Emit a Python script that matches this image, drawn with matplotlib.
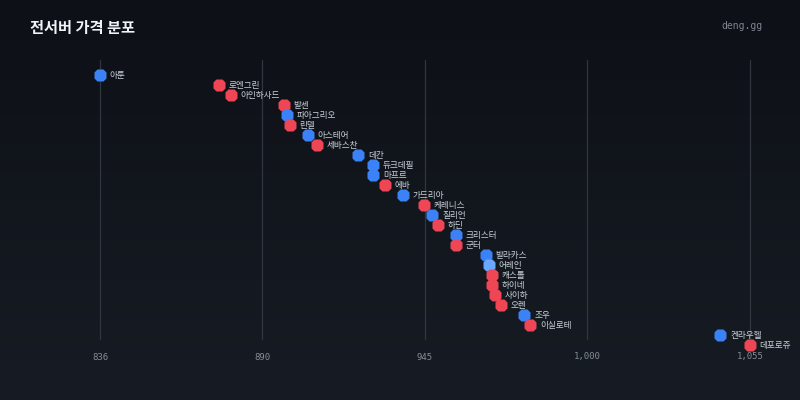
import numpy as np
import matplotlib
matplotlib.use("Agg")
import matplotlib.pyplot as plt

plt.rcParams['font.family'] = ['Noto Sans CJK KR', 'DejaVu Sans']

# servers, price (reading from the picture), group
servers = ["아툰", "로엔그린", "아인하사드", "발센", "파아그리오", "린델", "아스테어",
           "세바스찬", "데칸", "듀크데필", "마프르", "에바", "가드리아", "케레니스",
           "질리언", "하딘", "크리스터", "군터", "발라카스", "어레인", "캐스톨",
           "하이네", "사이하", "오렌", "조우", "이실로테", "켄라우헬", "데포로쥬"]
prices = [836, 876, 880, 898, 899, 900, 906, 909, 923, 928, 928, 932, 938, 945,
          948, 950, 956, 956, 966, 967, 968, 968, 969, 971, 979, 981, 1045, 1055]
groups = ["b", "r", "r", "r", "b", "r", "b", "r", "b", "b", "b", "r", "b", "r",
          "b", "r", "b", "r", "b", "lb", "r", "r", "r", "r", "b", "r", "b", "r"]

tick_vals = [836, 890.75, 945.5, 1000.25, 1055]
tick_labels = ["836", "890", "945", "1,000", "1,055"]

group_colors = {"b": "#3b82f6", "r": "#ef4655", "lb": "#6aa8ff"}


def main():
    fig = plt.figure(figsize=(8, 4), dpi=100)

    # fond en degrade vertical
    bg = fig.add_axes([0, 0, 1, 1], zorder=-10)
    grad = np.linspace(0, 1, 256).reshape(-1, 1)
    cmap = matplotlib.colors.LinearSegmentedColormap.from_list(
        "bg", ["#0d1016", "#171c24"])
    bg.imshow(grad, aspect="auto", cmap=cmap, extent=[0, 1, 0, 1], origin="upper")
    bg.axis("off")

    ax = fig.add_axes([0, 0.15, 1, 0.70])
    ax.patch.set_alpha(0)
    ax.set_xlim(802.31, 1071.85)
    ax.set_ylim(26.5, -1.5)

    for x in tick_vals:
        ax.axvline(x, color="#30363f", lw=0.9, zorder=1)

    ranks = list(range(len(servers)))
    for i, (name, p, g) in enumerate(zip(servers, prices, groups)):
        ax.plot(p, ranks[i], marker="8", ms=9.5, color=group_colors[g],
                mec="none", clip_on=False, zorder=3)
        ax.annotate(name, (p, ranks[i]), xytext=(7, -0.6), textcoords="offset points",
                    ha="left", va="center", fontsize=6.2, color="#c9d1d9",
                    annotation_clip=False, zorder=4)

    ax.set_xticks(tick_vals)
    ax.set_xticklabels(tick_labels, family="DejaVu Sans Mono", fontsize=6.5,
                       color="#848d97")
    ax.tick_params(axis="x", length=0, pad=9)
    ax.set_yticks([])
    for s in ax.spines.values():
        s.set_visible(False)

    fig.text(30 / 800, 1 - 28 / 400, "전서버 가격 분포", fontsize=11,
             fontweight="bold", color="#f0f3f6", ha="left", va="center")
    fig.text(762 / 800, 1 - 26 / 400, "deng.gg", family="DejaVu Sans Mono",
             fontsize=7, color="#7d8590", ha="right", va="center")

    fig.savefig("out.png", dpi=100)


if __name__ == "__main__":
    main()
